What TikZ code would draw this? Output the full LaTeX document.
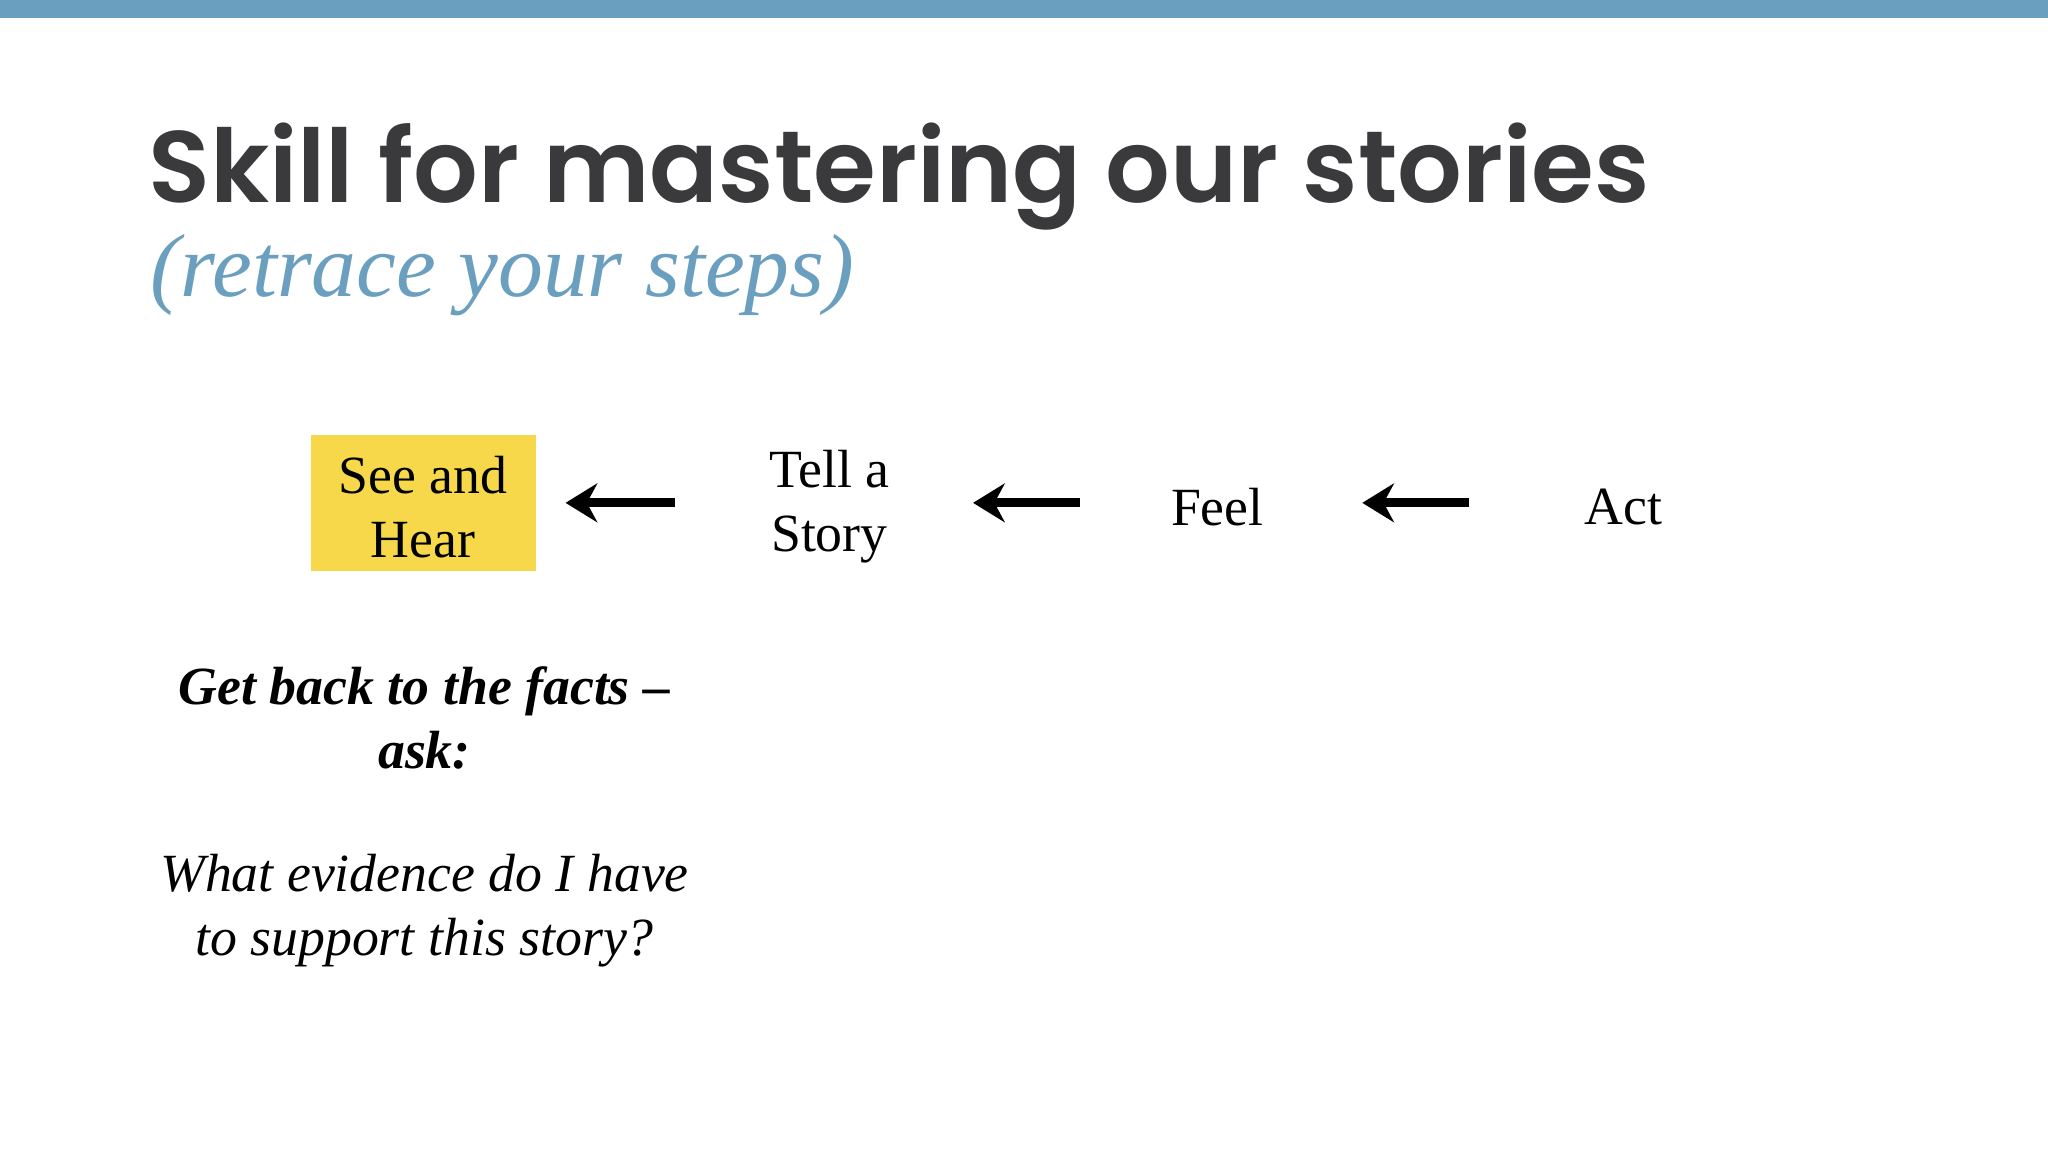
\documentclass[tikz,border=0pt]{standalone}
\usepackage{fontspec}
\setmainfont{Liberation Serif}
\newfontfamily\titlefont{Poppins}[UprightFont=* SemiBold,BoldFont=* Bold]
\usetikzlibrary{arrows.meta}
\definecolor{barblue}{HTML}{6A9FBF}
\definecolor{titlegray}{HTML}{3A3A3C}
\definecolor{sticky}{HTML}{F6D84A}
\tikzset{
  lbl/.style={font=\fontsize{15.3}{18.2}\selectfont, align=center, text=black},
  back/.style={line width=2.6pt, -{Stealth[length=9pt,width=11pt]}, black}
}
\begin{document}
\begin{tikzpicture}[x=0.01306cm,y=-0.01306cm]
\useasboundingbox (0,0) rectangle (1568,882);
\fill[white] (0,0) rectangle (1568,882);
\fill[barblue] (0,0) rectangle (1568,14);
\node[anchor=base west, inner sep=0, text=titlegray, font=\titlefont\fontsize{28.9}{34}\selectfont] (title) at (113,155) {Skill for mastering our stories};
\node[anchor=base west, inner sep=0, text=barblue, font=\itshape\fontsize{25.5}{30}\selectfont] (sub) at (115,227) {(retrace your steps)};
\path[fill=sticky] (238,333) rectangle (410,437);
\node[lbl] (see) at (324,388) {See and\\Hear};
\node[lbl] (tell) at (635,388) {Tell a\\Story};
\node[lbl] (feel) at (932,388) {Feel};
\node[lbl] (act) at (1243,388) {Act};
\coordinate (a1s) at (517,385); \coordinate (a1e) at (433,385);
\coordinate (a2s) at (827,385); \coordinate (a2e) at (745,385);
\coordinate (a3s) at (1125,385); \coordinate (a3e) at (1043,385);
\draw[back] (a1s) -- (a1e);
\draw[back] (a2s) -- (a2e);
\draw[back] (a3s) -- (a3e);
\node[lbl, font=\bfseries\itshape\fontsize{15.3}{18.2}\selectfont] (q) at (325,550) {Get back to the facts --\\ask:};
\node[lbl, font=\itshape\fontsize{15.3}{18.2}\selectfont] (ev) at (325,697) {What evidence do I have\\to support this story?};
\end{tikzpicture}
\end{document}
